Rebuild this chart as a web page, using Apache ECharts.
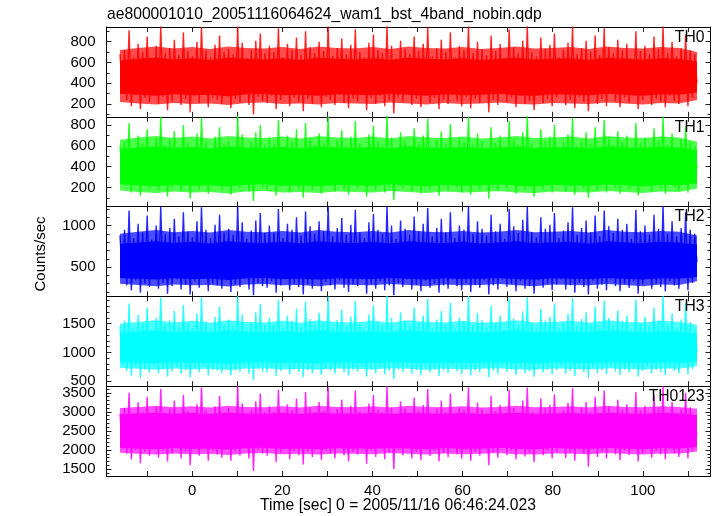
<!DOCTYPE html>
<html><head><meta charset="utf-8">
<script src="https://cdn.jsdelivr.net/npm/echarts@6/dist/echarts.min.js"></script>
<style>html,body{margin:0;padding:0;background:#fff}#c{width:717px;height:516px}</style>
</head><body><div id="c"></div>
<script>
const TITLE = "ae800001010_20051116064624_wam1_bst_4band_nobin.qdp";
const X_LABEL = "Time [sec] 0 = 2005/11/16 06:46:24.023";
const Y_LABEL = "Counts/sec";
const PANEL_NAMES = ["TH0", "TH1", "TH2", "TH3", "TH0123"];
const COLORS = ["#ff0000", "#00ff00", "#0000ff", "#00ffff", "#ff00ff"];
const TIME_START = -16, TIME_END = 112;
const X_MIN = -19, X_MAX = 115;
const X_TICKS = [-10, 0, 10, 20, 30, 40, 50, 60, 70, 80, 90, 100, 110];
const X_TICK_LABELS = [0, 20, 40, 60, 80, 100];

// rate samples (alternating local highs / lows), counts/sec
const TH0 = [
680,350, 720,240, 910,180, 650,290, 780,150, 700,260, 850,220, 630,310,
760,200, 950,270, 690,140, 740,230, 820,300, 670,190, 890,250, 710,120,
660,280, 800,210, 940,330, 720,170, 650,260, 770,240, 860,200, 700,290,
730,160, 680,250, 950,220, 790,310, 640,190, 720,100, 810,270, 880,230,
690,210, 760,280, 700,150, 930,240, 650,300, 780,180, 720,260, 840,220,
670,130, 900,250, 750,200, 690,320, 800,170, 710,270, 950,240, 660,190,
740,290, 830,210, 680,160, 770,250, 920,230, 700,300, 650,140, 790,260,
870,200, 720,280, 690,180, 950,240, 760,110, 640,270, 810,220, 730,300,
680,190, 850,250, 710,170, 780,290, 940,210, 660,260, 740,150, 820,240,
700,200, 890,300, 650,230, 760,180, 720,270, 950,160, 690,250, 800,210,
730,290, 670,120, 860,240, 710,190, 780,300, 640,220, 920,260, 750,170,
690,280, 810,200, 950,230, 700,140, 660,290, 840,210, 730,250, 770,180,
880,260, 650,300, 720,190, 790,240, 950,160, 680,270, 740,220, 810,130,
700,290, 860,200, 670,250, 930,180, 750,300, 690,230, 820,170, 720,260,
780,210, 640,280, 900,150, 710,240, 760,300, 680,190, 850,250, 730,220,
950,170, 690,280, 800,230, 660,200, 740,310, 870,180, 720,260, 680,400
];
const TH1 = [
600,330, 640,220, 820,150, 580,260, 700,120, 620,230, 760,190, 560,280,
680,170, 880,240, 610,110, 660,200, 740,270, 590,160, 800,220, 630,90,
580,250, 720,180, 870,300, 640,140, 570,230, 690,210, 780,170, 620,260,
650,130, 600,220, 890,190, 710,280, 560,160, 640,70, 730,240, 800,200,
610,180, 680,250, 620,120, 850,210, 570,270, 700,150, 640,230, 760,190,
590,100, 820,220, 670,170, 610,290, 720,140, 630,240, 880,210, 580,160,
660,260, 750,180, 600,130, 690,220, 840,200, 620,270, 570,110, 710,230,
790,170, 640,250, 610,150, 890,210, 680,80, 560,240, 730,190, 650,270,
600,160, 770,220, 630,140, 700,260, 860,180, 580,230, 660,120, 740,210,
620,170, 810,270, 570,200, 680,150, 640,240, 880,130, 610,220, 720,180,
650,260, 590,90, 780,210, 630,160, 700,270, 560,190, 840,230, 670,140,
610,250, 730,170, 890,200, 620,110, 580,260, 760,180, 650,220, 690,150,
800,230, 570,270, 640,160, 710,210, 870,130, 600,240, 660,190, 730,100,
620,260, 780,170, 590,220, 850,150, 670,270, 610,200, 740,140, 640,230,
700,180, 560,250, 820,120, 630,210, 680,270, 600,160, 770,220, 650,190,
880,140, 610,250, 720,200, 580,170, 660,280, 790,150, 640,230, 600,380
];
const TH2 = [
880,380, 950,280, 1180,220, 850,340, 1020,190, 920,300, 1120,260, 830,360,
1000,240, 1230,310, 900,180, 970,270, 1080,350, 870,230, 1160,290, 930,170,
860,330, 1050,250, 1220,380, 950,210, 850,300, 1010,280, 1130,240, 920,340,
960,200, 890,290, 1240,260, 1040,360, 840,230, 940,160, 1060,310, 1150,270,
910,250, 1000,330, 920,190, 1200,280, 850,350, 1020,220, 950,300, 1100,260,
880,170, 1170,290, 990,240, 900,370, 1050,210, 930,320, 1230,280, 870,230,
970,340, 1090,250, 890,200, 1010,290, 1190,270, 920,350, 850,180, 1040,300,
1140,240, 950,330, 900,220, 1240,280, 1000,160, 840,310, 1060,260, 960,350,
890,230, 1110,290, 930,210, 1020,340, 1210,250, 870,300, 970,190, 1080,280,
920,240, 1160,350, 850,270, 1000,220, 950,310, 1240,200, 900,290, 1050,250,
960,340, 880,170, 1130,280, 930,230, 1020,350, 840,260, 1200,300, 990,210,
910,330, 1070,240, 1230,270, 920,180, 860,340, 1100,250, 960,300, 1010,220,
1150,290, 850,350, 940,230, 1040,280, 1220,190, 890,310, 970,260, 1060,170,
920,340, 1120,240, 870,290, 1180,220, 990,350, 910,270, 1080,210, 950,300,
1020,250, 840,330, 1190,180, 930,290, 1000,360, 890,240, 1130,300, 960,260,
1240,210, 900,330, 1050,280, 870,240, 970,370, 1160,220, 950,310, 900,560
];
const TH3 = [
1450,780, 1550,680, 1850,600, 1420,740, 1650,560, 1500,700, 1780,650, 1400,760,
1600,640, 1950,710, 1480,580, 1560,670, 1720,750, 1430,630, 1820,690, 1510,560,
1420,730, 1680,650, 1960,780, 1540,600, 1410,700, 1620,680, 1800,640, 1490,740,
1570,600, 1460,690, 1980,660, 1660,760, 1400,630, 1530,520, 1700,710, 1840,670,
1480,650, 1600,730, 1500,590, 1920,680, 1420,750, 1640,620, 1550,700, 1760,660,
1450,570, 1880,690, 1580,640, 1470,770, 1690,610, 1520,720, 1970,680, 1430,630,
1560,740, 1740,650, 1460,600, 1620,690, 1900,670, 1500,750, 1410,580, 1660,700,
1820,640, 1540,730, 1470,620, 1980,680, 1600,540, 1400,710, 1700,660, 1550,750,
1460,630, 1780,690, 1510,610, 1640,740, 1930,650, 1420,700, 1570,590, 1720,680,
1490,640, 1860,750, 1410,670, 1600,620, 1540,710, 1990,600, 1470,690, 1680,650,
1560,740, 1430,570, 1810,680, 1510,630, 1640,750, 1400,660, 1940,700, 1590,610,
1480,730, 1710,640, 1960,670, 1500,580, 1420,740, 1760,650, 1560,700, 1620,620,
1840,690, 1410,750, 1520,630, 1670,680, 1950,590, 1460,710, 1580,660, 1700,560,
1500,740, 1800,640, 1430,690, 1900,620, 1600,750, 1480,670, 1730,610, 1550,700,
1640,650, 1400,730, 1920,580, 1510,680, 1620,760, 1450,640, 1780,700, 1560,660,
1990,610, 1470,730, 1680,680, 1420,640, 1570,770, 1860,620, 1530,710, 1400,1000
];
const TH0123 = [
2950,2050, 3100,1900, 3500,1750, 2900,2000, 3250,1650, 3000,1950, 3400,1850, 2880,2080,
3150,1800, 3600,1980, 2980,1700, 3080,1900, 3300,2050, 2920,1780, 3450,1950, 3020,1600,
2900,2020, 3200,1850, 3650,2100, 3050,1720, 2880,1980, 3150,1880, 3420,1800, 2980,2040,
3100,1720, 2950,1960, 3680,1850, 3220,2060, 2870,1780, 3050,1450, 3280,2000, 3480,1900,
2990,1850, 3150,2040, 3000,1680, 3580,1920, 2900,2080, 3200,1760, 3050,1980, 3350,1860,
2950,1620, 3520,1960, 3120,1820, 2980,2090, 3260,1740, 3020,2010, 3650,1900, 2920,1780,
3080,2050, 3320,1860, 2960,1700, 3160,1950, 3560,1880, 3000,2060, 2880,1640, 3220,1990,
3440,1820, 3050,2030, 2980,1760, 3680,1940, 3120,1500, 2880,2000, 3280,1860, 3080,2060,
2960,1780, 3380,1950, 3020,1740, 3180,2040, 3600,1840, 2920,1990, 3080,1700, 3300,1920,
2990,1810, 3480,2060, 2900,1880, 3120,1770, 3060,2000, 3650,1720, 2960,1950, 3240,1850,
3080,2040, 2920,1600, 3420,1940, 3020,1800, 3180,2070, 2880,1860, 3580,1990, 3100,1760,
2970,2030, 3300,1830, 3640,1920, 3000,1680, 2900,2050, 3360,1860, 3100,1990, 3180,1780,
3460,1960, 2880,2080, 3040,1790, 3240,1930, 3620,1720, 2950,2020, 3120,1900, 3260,1560,
3000,2040, 3400,1820, 2920,1960, 3560,1780, 3140,2070, 2980,1880, 3320,1740, 3060,2000,
3200,1860, 2880,2030, 3520,1700, 3040,1920, 3160,2080, 2960,1800, 3440,1980, 3120,1880,
3680,1760, 2980,2040, 3260,1920, 2900,1820, 3080,2090, 3500,1780, 3120,1990, 2800,2400
];
const SERIES_VALUES = [TH0, TH1, TH2, TH3, TH0123];

// solid core of each light curve, every 4 s from -16 to 112
const TH0_CORE_LOW  = [300,290,280,295,285,290,275,295,300,285,290,280,295,290,285,300,290,280,295,285,290,300,285,280,295,290,285,300,290,280,295,290,310];
const TH0_CORE_HIGH = [620,635,645,630,640,625,645,635,630,640,625,645,635,630,640,625,645,635,630,640,625,635,645,630,635,640,625,645,635,630,640,635,610];
const TH1_CORE_LOW  = [230,220,210,225,215,220,210,225,230,215,220,210,225,220,215,230,220,210,225,215,220,230,215,210,225,220,215,230,220,210,225,220,240];
const TH1_CORE_HIGH = [570,585,595,580,590,575,595,585,580,590,575,595,585,580,590,575,595,585,580,590,575,585,595,580,585,590,575,595,585,580,590,585,560];
const TH2_CORE_LOW  = [370,360,350,365,355,360,345,365,370,355,360,350,365,360,355,370,360,350,365,355,360,370,355,350,365,360,355,370,360,350,365,360,380];
const TH2_CORE_HIGH = [780,795,810,790,805,785,810,795,790,805,785,810,795,790,805,785,810,795,790,805,785,795,810,790,795,805,785,810,795,790,805,795,770];
const TH3_CORE_LOW  = [830,820,810,825,815,820,805,825,830,815,820,810,825,820,815,830,820,810,825,815,820,830,815,810,825,820,815,830,820,810,825,820,840];
const TH3_CORE_HIGH = [1340,1360,1380,1350,1370,1345,1380,1360,1350,1370,1345,1380,1360,1350,1370,1345,1380,1360,1350,1370,1345,1360,1380,1350,1360,1370,1345,1380,1360,1350,1370,1360,1330];
const TH0123_CORE_LOW  = [2060,2040,2020,2050,2030,2040,2010,2050,2060,2030,2040,2020,2050,2040,2030,2060,2040,2020,2050,2030,2040,2060,2030,2020,2050,2040,2030,2060,2040,2020,2050,2040,2080];
const TH0123_CORE_HIGH = [2940,2960,2980,2950,2970,2945,2980,2960,2950,2970,2945,2980,2960,2950,2970,2945,2980,2960,2950,2970,2945,2960,2980,2950,2960,2970,2945,2980,2960,2950,2970,2960,2920];
// dense (but not solid) fringe of each light curve, same sampling
const TH0_OUTER_LOW  = [220,205,195,210,200,205,190,210,215,200,205,195,210,205,200,215,205,195,210,200,205,215,200,195,210,205,200,215,205,195,210,205,240];
const TH0_OUTER_HIGH = [720,740,755,735,750,730,755,740,735,750,730,755,740,735,750,730,755,740,735,750,730,740,755,735,740,750,730,755,740,735,750,740,700];
const TH1_OUTER_LOW  = [170,155,145,160,150,155,140,160,165,150,155,145,160,155,150,165,155,145,160,150,155,165,150,145,160,155,150,165,155,145,160,155,190];
const TH1_OUTER_HIGH = [660,680,695,675,690,670,695,680,675,690,670,695,680,675,690,670,695,680,675,690,670,680,695,675,680,690,670,695,680,675,690,680,640];
const TH2_OUTER_LOW  = [300,285,270,290,280,285,265,290,295,280,285,270,290,285,280,295,285,270,290,280,285,295,280,270,290,285,280,295,285,270,290,285,330];
const TH2_OUTER_HIGH = [900,925,945,920,935,915,945,925,920,935,915,945,925,920,935,915,945,925,920,935,915,925,945,920,925,935,915,945,925,920,935,925,880];
const TH3_OUTER_LOW  = [730,715,700,720,705,715,695,720,725,705,715,700,720,715,705,725,715,700,720,705,715,725,705,700,720,715,705,725,715,700,720,715,760];
const TH3_OUTER_HIGH = [1500,1530,1560,1520,1550,1515,1560,1530,1520,1550,1515,1560,1530,1520,1550,1515,1560,1530,1520,1550,1515,1530,1560,1520,1530,1550,1515,1560,1530,1520,1550,1530,1480];
const TH0123_OUTER_LOW  = [1930,1900,1880,1910,1890,1900,1870,1910,1920,1890,1900,1880,1910,1900,1890,1920,1900,1880,1910,1890,1900,1920,1890,1880,1910,1900,1890,1920,1900,1880,1910,1900,1960];
const TH0123_OUTER_HIGH = [3100,3130,3160,3120,3150,3115,3160,3130,3120,3150,3115,3160,3130,3120,3150,3115,3160,3130,3120,3150,3115,3130,3160,3120,3130,3150,3115,3160,3130,3120,3150,3130,3080];

const CORE_LOWS = [TH0_CORE_LOW, TH1_CORE_LOW, TH2_CORE_LOW, TH3_CORE_LOW, TH0123_CORE_LOW];
const CORE_HIGHS = [TH0_CORE_HIGH, TH1_CORE_HIGH, TH2_CORE_HIGH, TH3_CORE_HIGH, TH0123_CORE_HIGH];
const OUTER_LOWS = [TH0_OUTER_LOW, TH1_OUTER_LOW, TH2_OUTER_LOW, TH3_OUTER_LOW, TH0123_OUTER_LOW];
const OUTER_HIGHS = [TH0_OUTER_HIGH, TH1_OUTER_HIGH, TH2_OUTER_HIGH, TH3_OUTER_HIGH, TH0123_OUTER_HIGH];

const Y_RANGES = [[77, 942], [15, 880], [147, 1228], [413, 1974], [1317, 3675]];
const Y_MAJOR_TICKS = [
  [200, 400, 600, 800],
  [200, 400, 600, 800],
  [500, 1000],
  [500, 1000, 1500],
  [1500, 2000, 2500, 3000, 3500]
];
const Y_MINOR_TICKS = [
  [100, 300, 500, 700, 900],
  [100, 300, 500, 700],
  [200, 300, 400, 600, 700, 800, 900, 1100, 1200],
  [600, 700, 800, 900, 1100, 1200, 1300, 1400, 1600, 1700, 1800, 1900],
  [1400, 1600, 1700, 1800, 1900, 2100, 2200, 2300, 2400, 2600, 2700, 2800, 2900, 3100, 3200, 3300, 3400, 3600]
];

const FONT = "Liberation Sans";
const GRID_TOPS = [27, 116.8, 206.6, 296.4, 386.2];
const GRID_H = 89.8;

function timesFor(n) {
  const out = [];
  for (let k = 0; k < n; k++) out.push(TIME_START + k * (TIME_END - TIME_START) / (n - 1));
  return out;
}

const grids = [], xAxes = [], yAxes = [], series = [], titles = [];
const txt = {fontFamily: FONT, fontSize: 15.7, fontWeight: 'normal', color: '#000'};
titles.push({text: TITLE, left: 107, top: 7, padding: 0, textStyle: txt});
titles.push({text: X_LABEL, left: 260, top: 497.5, padding: 0, textStyle: txt});

const axisLine = {show: true, onZero: false, lineStyle: {color: '#000', width: 1}};
const tickStyle = {color: '#222', width: 1};
const plainFmt = v => String(v);

// one polygon per band: upper edge left->right, lower edge right->left
function bandSeries(i, lows, highs, opacity, z) {
  const ct = timesFor(lows.length);
  const data = lows.map((lo, k) => [ct[k], lo, highs[k]]);
  return {type: 'custom', coordinateSystem: 'cartesian2d', xAxisIndex: i * 2, yAxisIndex: i * 4,
    data: data, encode: {x: 0, y: [1, 2]}, animation: false, silent: true, z: z,
    renderItem: function (params, api) {
      if (params.dataIndex !== 0) return null;
      const pts = [];
      for (let k = 0; k < data.length; k++) pts.push(api.coord([data[k][0], data[k][2]]));
      for (let k = data.length - 1; k >= 0; k--) pts.push(api.coord([data[k][0], data[k][1]]));
      return {type: 'polygon', shape: {points: pts}, style: {fill: COLORS[i], opacity: opacity}, silent: true};
    }};
}

for (let i = 0; i < 5; i++) {
  grids.push({left: 106.5, right: 6.5, top: GRID_TOPS[i], height: GRID_H, containLabel: false});
  const xBase = {gridIndex: i, type: 'value', min: X_MIN, max: X_MAX,
    axisLine: axisLine, splitLine: {show: false},
    axisTick: {show: true, inside: true, length: 5, customValues: X_TICKS, lineStyle: tickStyle}};
  xAxes.push(Object.assign({}, xBase, {position: 'bottom',
    axisLabel: {show: i === 4, customValues: X_TICK_LABELS, formatter: plainFmt, fontFamily: FONT, fontSize: 15, color: '#000', margin: 7}}));
  xAxes.push(Object.assign({}, xBase, {position: 'top', axisLabel: {show: false}}));

  const yBase = {gridIndex: i, type: 'value', min: Y_RANGES[i][0], max: Y_RANGES[i][1], splitLine: {show: false}};
  yAxes.push(Object.assign({}, yBase, {position: 'left', axisLine: axisLine,
    axisTick: {show: true, inside: true, length: 5, customValues: Y_MAJOR_TICKS[i], lineStyle: tickStyle},
    axisLabel: {show: true, customValues: Y_MAJOR_TICKS[i], formatter: plainFmt, fontFamily: FONT, fontSize: 15, color: '#000', margin: 11}}));
  yAxes.push(Object.assign({}, yBase, {position: 'left', axisLine: {show: false, onZero: false},
    axisTick: {show: true, inside: true, length: 3, customValues: Y_MINOR_TICKS[i], lineStyle: tickStyle},
    axisLabel: {show: false}}));
  yAxes.push(Object.assign({}, yBase, {position: 'right', axisLine: axisLine,
    axisTick: {show: true, inside: true, length: 5, customValues: Y_MAJOR_TICKS[i], lineStyle: tickStyle},
    axisLabel: {show: false}}));
  yAxes.push(Object.assign({}, yBase, {position: 'right', axisLine: {show: false, onZero: false},
    axisTick: {show: true, inside: true, length: 3, customValues: Y_MINOR_TICKS[i], lineStyle: tickStyle},
    axisLabel: {show: false}}));

  series.push(bandSeries(i, OUTER_LOWS[i], OUTER_HIGHS[i], 0.7, 1));
  series.push(bandSeries(i, CORE_LOWS[i], CORE_HIGHS[i], 1, 2));

  // the noisy trace itself
  const vals = SERIES_VALUES[i];
  const t = timesFor(vals.length);
  series.push({type: 'line', xAxisIndex: i * 2, yAxisIndex: i * 4, data: vals.map((v, k) => [t[k], v]),
    showSymbol: false, symbol: 'none', animation: false, clip: true, z: 3,
    lineStyle: {color: COLORS[i], width: 1.4, opacity: 0.85}, itemStyle: {color: COLORS[i]}});

  titles.push({text: PANEL_NAMES[i], right: 12.5, top: GRID_TOPS[i] + 2.5, padding: 0, textStyle: txt});
}

const chart = echarts.init(document.getElementById('c'), null, {renderer: 'canvas'});
chart.setOption({
  backgroundColor: '#fff',
  animation: false,
  title: titles,
  grid: grids,
  xAxis: xAxes,
  yAxis: yAxes,
  series: series,
  graphic: [{type: 'text', x: 41, y: 254, rotation: Math.PI / 2,
    style: {text: Y_LABEL, font: '15px "Liberation Sans"', fill: '#000', textAlign: 'center', textVerticalAlign: 'middle'}}]
});
</script></body></html>
